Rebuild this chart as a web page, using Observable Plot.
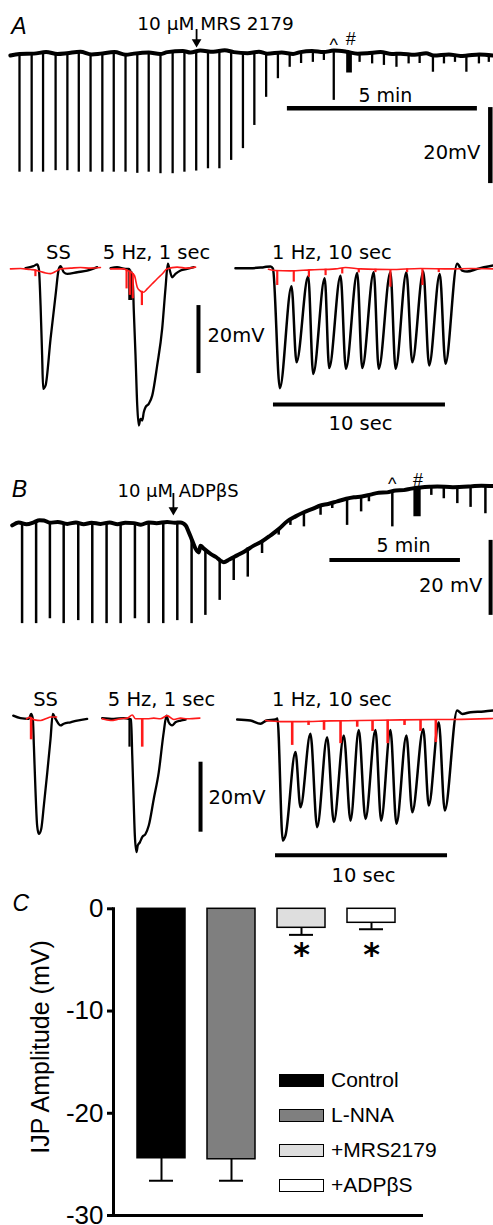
<!DOCTYPE html>
<html><head><meta charset="utf-8">
<script src="https://cdn.jsdelivr.net/npm/d3@7"></script>
<script src="https://cdn.jsdelivr.net/npm/@observablehq/plot@0.6"></script>
<style>
body{margin:0;background:#fff;}
#fig{position:relative;width:493px;height:1225px;overflow:hidden;background:#fff;}
#fig svg{position:absolute;left:0;}
.legend{position:absolute;left:279px;top:1062.5px;font-family:"Liberation Sans",Arial,sans-serif;font-size:21px;color:#000;}
.row{display:flex;align-items:center;height:35px;}
.sw{width:43px;height:11px;border:1.5px solid #000;margin-right:7px;box-sizing:content-box;}
.ytitle{position:absolute;left:40px;top:1047px;transform:translate(-50%,-50%) rotate(-90deg);white-space:nowrap;font-family:"Liberation Sans",Arial,sans-serif;font-size:25px;color:#000;line-height:1;}
</style></head><body><div id="fig"></div>
<script>
// ===== Panel A, top: slow trace (time in min, membrane potential in mV relative to start)
const aTopBaseline = [[0.26,-0.8],[0.5,-0.4],[0.88,-0.3],[1.2,0.1],[1.5,-0.4],[1.75,-0.2],[2.1,0.2],[2.4,-0.5],[2.63,-0.3],[3.0,0.1],[3.3,-0.6],[3.51,-0.3],[3.9,0.0],[4.2,-0.4],[4.39,0.1],[4.8,0.4],[5.0,0.0],[5.26,0.5],[5.6,0.2],[5.9,0.6],[6.14,0.1],[6.5,-0.2],[6.8,0.2],[7.02,-0.3],[7.4,0.0],[7.7,-0.4],[7.89,0.1],[8.2,0.4],[8.5,0.1],[8.77,0.5],[9.1,0.2],[9.4,-0.3],[9.65,-0.2],[10.0,0.1],[10.3,-0.4],[10.53,-0.3],[10.9,-0.6],[11.2,-0.2],[11.4,-0.8],[11.8,-0.5],[12.1,-0.9],[12.28,-0.8],[12.6,-0.5],[12.97,-0.8]];
// IJPs: [time, baseline, peak]
const aTopSpikes = [[0.50,-0.4,-31.5],[0.82,-0.3,-31.5],[1.12,-0.2,-31.5],[1.45,-0.3,-31.1],[1.76,-0.2,-31.1],[2.06,-0.1,-31.5],[2.37,-0.3,-31.5],[2.68,-0.3,-31.5],[2.98,-0.1,-31.5],[3.29,-0.3,-31.5],[3.60,-0.2,-31.8],[3.90,-0.1,-31.5],[4.21,0.0,-31.9],[4.53,0.2,-31.9],[4.84,0.2,-31.5],[5.15,0.4,-31.2],[5.46,0.3,-30.6],[5.76,0.3,-30.6],[6.07,0.1,-28.4],[6.38,0.0,-25.3],[6.68,0.0,-19.2],[6.99,-0.2,-11.8],[7.30,-0.1,-6.9],[7.61,0.0,-3.9],[7.91,0.1,-2.9],[8.22,0.3,-2.6],[8.51,0.4,-2.1],[8.77,0.4,-12.6],[9.45,-0.2,-2.6],[9.78,0.0,-3.0],[10.09,-0.2,-3.4],[10.42,-0.3,-3.9],[10.74,-0.3,-3.0],[11.03,-0.4,-2.9],[11.38,-0.6,-5.2],[11.67,-0.6,-3.0],[11.96,-0.7,-2.6],[12.26,-0.8,-5.2],[12.59,-0.7,-3.0],[12.85,-0.8,-2.6]];
const aTopTrain = [[9.11,9.26,0.0,-5.4]];
const aTopLetter = [["A",0.28,4.9]];
const aTopDrug = [["10 µM MRS 2179",5.66,5.8]];
const aTopMarks = [["^",8.77,0.3],["#",9.22,1.84]];
const aTopTimeLabel = [["5 min",10.13,-13.1]];
const aTopVoltLabel = [["20mV",12.63,-27.9]];
const aTopTimeBar = [[7.55,12.55,-14.7]];
const aTopVoltBar = [[12.89,-14.5,-34.5]];
const aTopArrow = [[5.16,6.05,2.76]];

// ===== Panel A, bottom: fast traces (time in s, mV); black = control, red = MRS 2179
const aSSBlack = [[1.45,0.1],[1.92,0.7],[2.13,1.2],[2.23,-0.1],[2.33,-10.9],[2.42,-25.6],[2.48,-35.4],[2.62,-34.4],[2.91,-20.7],[3.20,-7.9],[3.39,-0.1],[3.49,0.7],[3.68,-1.1],[3.88,-1.6],[4.46,-1.1],[5.04,-0.6],[5.62,0.4]];
const aSSRed = [[0.58,-0.1],[1.16,0],[1.74,-0.3],[1.98,-0.4],[2.09,-0.6],[2.33,-0.9],[2.62,-1.3],[2.91,-1.5],[3.20,-0.9],[3.49,-0.1],[4.07,0.1],[4.65,0.3],[5.23,0.1],[5.81,0.3]];
const a5Black = [[6.40,0.1],[6.78,0.4],[7.27,-0.1],[7.46,-0.1],[7.70,-5.0],[7.75,-12.4],[7.85,-25.6],[7.95,-40.3],[8.04,-46.2],[8.14,-44.2],[8.24,-44.7],[8.33,-42.3],[8.43,-40.8],[8.62,-39.8],[8.82,-37.4],[9.11,-28.5],[9.40,-17.7],[9.59,-6.0],[9.73,1.4],[9.83,-0.3],[9.98,-2.6],[10.17,-1.6],[10.47,-0.6],[10.85,-0.1],[11.24,0.4]];
const a5Red = [[6.40,-0.1],[7.17,-0.1],[7.37,-0.6],[7.60,-1.1],[7.79,-2.1],[7.95,-5.5],[8.10,-6.5],[8.30,-7.0],[8.53,-6.0],[8.82,-4.5],[9.11,-3.0],[9.40,-1.6],[9.69,-0.1],[10.27,0.4],[10.85,0.1],[11.34,0.4]];
const a1Black = [[13.66,0.1],[14.53,0.1],[15.31,0.4],[15.70,0.6],[15.84,0],[16.24,-35.2],[16.92,-5.2],[17.21,-27.6],[17.89,-2.3],[18.18,-31.0],[18.85,-2.9],[19.11,-29.3],[19.77,-2.1],[20.08,-29.5],[20.74,-1.3],[21.03,-29.3],[21.70,-1.1],[21.99,-29.5],[22.67,-1.1],[22.97,-29.5],[23.60,-1.1],[23.94,-27.6],[24.58,-0.9],[24.92,-28.5],[25.54,-1.6],[25.87,-28.0],[26.55,1.4],[26.84,-0.6],[27.13,-0.9],[27.72,-0.1],[28.66,0.9]];
const a1Red = [[15.58,-0.2],[15.99,-0.6],[16.86,-0.7],[18.02,-0.4],[19.48,-0.1],[20.06,0.3],[20.93,-0.1],[22.67,-0.3],[24.42,0],[26.16,-0.1],[27.33,0],[28.66,-0.1]];
const aBlackArtifacts = [[7.48,-0.1,-9.4],[7.55,-0.5,-9.4],[7.62,-1.0,-9.4]];
const aRedArtifacts = [[2.03,-0.4,-2.4],[7.33,-0.3,-6.0],[7.52,-0.8,-7.9],[7.69,-1.5,-8.9],[8.22,-6.7,-10.9],[16.09,-0.6,-5.0],[17.05,-0.6,-4.0],[17.93,-0.4,-2.6],[18.90,-0.2,-2.1],[19.87,0,-1.6],[20.83,-0.1,-1.3],[21.80,-0.2,-1.2],[22.67,-0.3,-5.5],[23.64,-0.1,-1.2],[24.53,0,-5.0],[25.48,-0.1,-1.2]];
const aBotLabels = [["SS",3.37,2.94],["5 Hz, 1 sec",9.07,2.94],["1 Hz, 10 sec",19.27,2.94],["10 sec",20.93,-47.6]];
const aBotVoltLabel = [["20mV",12.03,-21.7]];
const aBotVoltBar = [[11.51,-10.9,-30.9]];
const aBotTimeBar = [[15.87,25.87,-40]];

// ===== Panel B, top: slow trace (min, mV)
const bTopBaseline = [[0.45,-0.5],[0.7,0.3],[1.0,-0.2],[1.28,0.3],[1.5,0.9],[1.67,0.8],[1.9,0.2],[2.2,0.4],[2.57,-0.1],[2.9,0.3],[3.2,-0.2],[3.5,0.2],[3.85,-0.1],[4.2,0.3],[4.5,-0.2],[4.8,0.2],[5.13,0.1],[5.4,-0.3],[5.7,0.3],[6.0,0.1],[6.41,0.4],[6.7,0.2],[6.92,0.3],[7.12,-0.5],[7.24,-2.3],[7.37,-4.5],[7.50,-6.7],[7.63,-7.7],[7.69,-5.9],[7.82,-6.7],[8.08,-8.1],[8.3,-9.0],[8.46,-9.9],[8.59,-10.3],[8.8,-9.6],[9.10,-8.5],[9.4,-7.4],[9.74,-5.9],[10.05,-4.8],[10.38,-3.2],[10.7,-1.5],[11.03,0.6],[11.35,1.9],[11.67,3.0],[12.0,3.9],[12.31,4.8],[12.6,5.2],[12.95,5.9],[13.3,6.6],[13.59,7.0],[13.9,7.2],[14.23,7.7],[14.55,8.2],[14.87,8.3],[15.2,8.8],[15.51,8.9],[15.8,9.3],[16.15,9.6],[16.5,9.8],[16.80,9.9],[17.4,9.7],[18.08,9.9],[18.5,10.1],[18.96,10.0]];
const bTopSpikes = [[0.83,0.2,-26.7],[1.37,0.5,-26.7],[1.90,0.3,-25.4],[2.43,0.2,-26.7],[2.99,0.2,-25.9],[3.53,0.1,-26.7],[4.08,0.1,-26.7],[4.62,0.1,-26.7],[5.17,0.0,-25.4],[5.70,0.2,-26.7],[6.26,0.3,-26.7],[6.80,0.3,-25.9],[7.35,-4.0,-26.7],[7.88,-7.0,-24.5],[8.43,-9.8,-20.5],[8.97,-8.8,-15.2],[9.51,-6.5,-14.3],[10.06,-4.5,-8.0],[10.70,-1.8,-3.1],[11.15,0.9,-0.5],[11.67,3.0,-0.9],[12.31,4.8,2.2],[12.76,5.6,4.0],[13.33,6.5,-0.5],[13.87,7.2,3.1],[14.17,7.6,5.8],[15.07,8.5,-0.9],[16.57,9.8,7.5],[17.05,9.8,6.6],[17.57,9.8,5.3],[18.08,9.9,4.3],[18.65,10.0,2.6]];
const bTopTrain = [[15.90,16.18,9.3,1.8]];
const bTopLetter = [["B",0.43,7.0]];
const bTopDrug = [["10 μM ADPβS",6.83,7.2]];
const bTopMarks = [["^",15.07,8.9],["#",16.06,10.13]];
const bTopTimeLabel = [["5 min",15.5,-7.6]];
const bTopVoltLabel = [["20 mV",18.53,-18.3]];
const bTopTimeBar = [[12.67,17.69,-9.7]];
const bTopVoltBar = [[18.85,-4.5,-24.5]];
const bTopArrow = [[6.65,8.0,3.6]];

// ===== Panel B, bottom: fast traces (s, mV); black = control, red = ADPβS
const bSSBlack = [[0.74,0.9],[1.16,0.2],[1.65,0],[1.78,1.4],[1.88,0],[1.94,-7.6],[2.03,-20],[2.13,-30.5],[2.23,-32.9],[2.37,-31.4],[2.52,-24.8],[2.72,-15.3],[2.91,-5.7],[3.04,1.4],[3.20,0],[3.49,-1.9],[3.68,-1.4],[4.07,-1.0],[4.46,-0.5],[5.04,0]];
const bSSRed = [[1.51,0],[1.69,0.4],[1.98,-0.3],[2.33,-0.5],[2.67,0.1],[2.91,0.5],[3.26,0.5]];
const b5Black = [[5.91,0.2],[6.59,0],[7.17,0.2],[7.46,0],[7.59,-0.2],[7.66,-10.5],[7.75,-24.7],[7.81,-33.3],[7.91,-38.1],[7.98,-36.2],[8.10,-35.3],[8.24,-33.8],[8.43,-32.9],[8.62,-30.5],[8.91,-22.9],[9.20,-15.3],[9.49,-3.8],[9.65,0.9],[9.78,-1.0],[9.98,-1.9],[10.17,-1.0],[10.47,-0.5],[10.76,-0.2]];
const b5Red = [[5.91,0],[6.40,-0.5],[6.98,0],[7.37,0.2],[7.66,1.1],[7.85,0],[8.53,0],[8.91,0.2],[9.30,0],[9.69,0.9],[10.08,-0.2],[10.47,0.2],[10.85,0],[11.59,0.2]];
const b1Black = [[13.76,-0.2],[14.53,-0.5],[15.12,-1.4],[15.47,-0.5],[15.99,-0.2],[16.10,0.1],[16.41,-34.8],[16.57,-33.3],[17.15,-9.5],[17.44,-25.3],[18.02,-4.3],[18.41,-31.0],[18.99,-5.3],[19.38,-29.5],[19.96,-4.8],[20.35,-29.1],[20.83,-3.2],[21.22,-28.6],[21.80,-3.2],[22.13,-29.1],[22.67,-3.2],[23.02,-30.0],[23.60,-4.8],[23.94,-26.7],[24.58,-2.9],[24.90,-24.8],[25.48,-1.0],[25.83,-26.2],[26.55,2.4],[26.84,1.4],[27.33,1.9],[28.10,2.1],[28.66,2.4]];
const b1Red = [[15.41,-0.5],[16.28,-0.8],[17.44,-0.8],[19.19,-0.6],[20.93,-0.5],[23.26,-0.3],[25.58,-0.2],[27.33,-0.1],[28.66,0.1]];
const bBlackArtifacts = [[7.50,0,-8.1]];
const bRedArtifacts = [[1.78,0,-6.0],[8.24,0,-8.1],[16.96,-0.8,-7.6],[17.91,-0.7,-1.9],[18.81,-0.6,-3.3],[19.77,-0.6,-7.1],[20.74,-0.5,-2.4],[21.63,-0.5,-3.6],[22.51,-0.4,-7.1],[23.49,-0.3,-1.9],[24.42,-0.3,-3.6],[25.31,-0.2,-6.8]];
const bBotLabels = [["SS",2.62,3.8],["5 Hz, 1 sec",9.36,3.8],["1 Hz, 10 sec",19.27,3.8],["10 sec",21.1,-46.7]];
const bBotVoltLabel = [["20mV",12.09,-24.3]];
const bBotVoltBar = [[11.63,-12.4,-32.4]];
const bBotTimeBar = [[15.99,25.99,-39]];

// ===== Panel C: IJP amplitude
const conditions = ["Control","L-NNA","+MRS2179","+ADPβS"];
const ijpMean = [-24.4,-24.5,-1.86,-1.37];
const ijpErrEnd = [-26.6,-26.6,-2.55,-2.0];
const barFills = ["#000000","#7f7f7f","#dedede","#ffffff"];
const sigMarks = [["+MRS2179",-5.5],["+ADPβS",-5.5]];
const yTicks = [0,-10,-20,-30];
const yTitle = "IJP Amplitude (mV)";

// ---------- helpers
const fig = document.getElementById("fig");
const RED = "#ff1a1a";
const SANS = "'Liberation Sans', Arial, sans-serif";
const traceStyle = {background:"transparent",overflow:"visible",fontFamily:"'DejaVu Sans', sans-serif",color:"#000"};
const ln = (pairs, stroke, w) => Plot.line(pairs, {x:d=>d[0], y:d=>d[1], stroke, strokeWidth:w, curve:"monotone-x"});
const vrules = (rows, stroke, w) => Plot.ruleX(rows, {x:d=>d[0], y1:d=>d[1], y2:d=>d[2], stroke, strokeWidth:w});
const hrules = (rows, w) => Plot.ruleY(rows, {y:d=>d[2], x1:d=>d[0], x2:d=>d[1], stroke:"#000", strokeWidth:w});
const blocks = rows => Plot.rect(rows, {x1:d=>d[0], x2:d=>d[1], y1:d=>d[2], y2:d=>d[3], fill:"#000"});
const txt = (rows, anchor, size, extra={}) => Plot.text(rows, {x:d=>d[1], y:d=>d[2], text:d=>d[0], textAnchor:anchor, lineAnchor:"bottom", fontSize:size, fill:"#000", ...extra});
const arrow = rows => [
  Plot.ruleX(rows, {x:d=>d[0], y1:d=>d[1], y2:d=>d[2], stroke:"#000", strokeWidth:1.8}),
  Plot.dot(rows, {x:d=>d[0], y:d=>d[2], symbol:"triangle", rotate:180, r:3.6, fill:"#000", stroke:"none"})
];
function place(svg, top){ svg.style.top = top + "px"; fig.appendChild(svg); }
function trace(top, height, xDomain, yDomain, marks){
  place(Plot.plot({width:493, height, margin:0, x:{domain:xDomain, axis:null}, y:{domain:yDomain, axis:null}, style:traceStyle, marks}), top);
}

// A top
trace(0, 200, [0, 493/38], [-38.95, 13.68], [
  vrules(aTopSpikes, "#000", 2.3),
  blocks(aTopTrain),
  ln(aTopBaseline, "#000", 4),
  ...arrow(aTopArrow),
  txt(aTopLetter, "start", 23, {fontStyle:"italic", fontFamily:SANS}),
  txt(aTopDrug, "middle", 18.5),
  txt(aTopMarks, "middle", 18, {fontFamily:SANS}),
  txt(aTopTimeLabel, "middle", 19),
  txt(aTopVoltLabel, "end", 19.5),
  hrules(aTopTimeBar, 4.5),
  vrules(aTopVoltBar, "#000", 4.5)
]);

// A bottom
trace(240, 200, [0, 493/17.2], [-50.59, 8.24], [
  ln(aSSBlack, "#000", 2.3), ln(a5Black, "#000", 2.3), ln(a1Black, "#000", 2.5),
  vrules(aBlackArtifacts, "#000", 1.8),
  ln(aSSRed, RED, 1.6), ln(a5Red, RED, 1.6), ln(a1Red, RED, 1.6),
  vrules(aRedArtifacts, RED, 2.2),
  txt(aBotLabels, "middle", 19.5),
  txt(aBotVoltLabel, "start", 19.5),
  vrules(aBotVoltBar, "#000", 4),
  hrules(aBotTimeBar, 4)
]);

// B top
trace(460, 180, [0, 493/26], [-31.2, 16.8], [
  vrules(bTopSpikes, "#000", 2.5),
  blocks(bTopTrain),
  ln(bTopBaseline, "#000", 4),
  ...arrow(bTopArrow),
  txt(bTopLetter, "start", 23, {fontStyle:"italic", fontFamily:SANS}),
  txt(bTopDrug, "middle", 18),
  txt(bTopMarks, "middle", 18, {fontFamily:SANS}),
  txt(bTopTimeLabel, "middle", 19),
  txt(bTopVoltLabel, "end", 19.5),
  hrules(bTopTimeBar, 4),
  vrules(bTopVoltBar, "#000", 4)
]);

// B bottom
trace(690, 200, [0, 493/17.2], [-49.06, 8.09], [
  ln(bSSBlack, "#000", 2.3), ln(b5Black, "#000", 2.3), ln(b1Black, "#000", 2.5),
  vrules(bBlackArtifacts, "#000", 2.2),
  ln(bSSRed, RED, 1.6), ln(b5Red, RED, 1.6), ln(b1Red, RED, 1.6),
  vrules(bRedArtifacts, RED, 2.6),
  txt(bBotLabels, "middle", 19.5),
  txt(bBotVoltLabel, "start", 19.5),
  vrules(bBotVoltBar, "#000", 4),
  hrules(bBotTimeBar, 4)
]);

// C bar chart
const cRows = conditions.map((c,i)=>({cond:c, mean:ijpMean[i], err:ijpErrEnd[i], fill:barFills[i]}));
place(Plot.plot({
  width:493, height:345, marginTop:28.3, marginBottom:10, marginLeft:113, marginRight:72,
  x:{domain:conditions, range:[126,406], paddingInner:0.314, paddingOuter:0.157, axis:null},
  y:{domain:[-30,0]},
  color:{type:"identity"},
  style:{background:"transparent",overflow:"visible",fontFamily:SANS,color:"#000"},
  marks:[
    Plot.ruleX(cRows, {x:"cond", y1:"mean", y2:"err", stroke:"#000", strokeWidth:2}),
    Plot.tickY(cRows, {x:"cond", y:"err", stroke:"#000", strokeWidth:2, insetLeft:12, insetRight:12}),
    Plot.barY(cRows, {x:"cond", y:"mean", fill:"fill", stroke:"#000", strokeWidth:1.5}),
    Plot.axisY({ticks:yTicks, tickSize:6, tickPadding:4, tickFormat:d=>String(d), fontSize:26, strokeWidth:3, label:null}),
    Plot.frame({anchor:"left", stroke:"#000", strokeWidth:3}),
    Plot.frame({anchor:"bottom", stroke:"#000", strokeWidth:3}),
    Plot.text(sigMarks, {x:d=>d[0], y:d=>d[1], text:()=>"*", fontSize:32, fontWeight:"bold", lineAnchor:"bottom", fontFamily:"'DejaVu Sans', sans-serif"}),
    Plot.text(["C"], {frameAnchor:"top-left", dx:-101, dy:2.5, lineAnchor:"bottom", textAnchor:"start", fontSize:23, fontStyle:"italic"})
  ]
}), 880);

// Y-axis title of panel C
const yt = document.createElement("div");
yt.className = "ytitle"; yt.textContent = yTitle;
fig.appendChild(yt);

// Legend for panel C
const legend = document.createElement("div");
legend.className = "legend";
conditions.forEach((c,i)=>{
  const row = document.createElement("div"); row.className = "row";
  const sw = document.createElement("div"); sw.className = "sw"; sw.style.background = barFills[i];
  const lab = document.createElement("span"); lab.textContent = c;
  row.append(sw, lab); legend.append(row);
});
fig.appendChild(legend);
</script></body></html>
